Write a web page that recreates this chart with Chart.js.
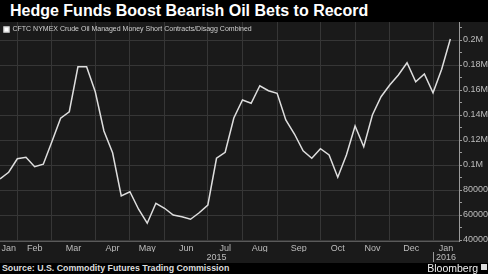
<!DOCTYPE html>
<html>
<head>
<meta charset="utf-8">
<script src="https://cdn.jsdelivr.net/npm/chart.js@4"></script>
<style>
    html, body {
        margin: 0;
        padding: 0;
        background: #000;
    }
    body {
        width: 488px;
        height: 274px;
        overflow: hidden;
        position: relative;
        font-family: 'Liberation Sans', Arial, sans-serif;
    }
    #title {
        position: absolute;
        left: 10px;
        top: 0;
        height: 22px;
        line-height: 22px;
        color: #fff;
        font-weight: bold;
        font-size: 16px;
        white-space: nowrap;
    }
    #panel {
        position: absolute;
        left: 0;
        top: 22px;
        width: 488px;
        height: 241px;
        background: #1a1a1a;
    }
    #source {
        position: absolute;
        left: 2px;
        top: 263px;
        height: 11px;
        line-height: 11px;
        font-size: 8.8px;
        font-weight: bold;
        color: #ddd;
        white-space: nowrap;
    }
    #brand {
        position: absolute;
        right: 10px;
        top: 262px;
        height: 12px;
        line-height: 12px;
        font-size: 10.5px;
        color: #eee;
        white-space: nowrap;
    }
    #brand-mark {
        position: absolute;
        right: 1px;
        top: 264px;
        width: 6px;
        height: 6px;
        background: #ddd;
    }
</style>
</head>
<body>
<div id="title">Hedge Funds Boost Bearish Oil Bets to Record</div>
<div id="panel"><canvas id="oil-chart" width="488" height="241"></canvas></div>
<div id="source">Source: U.S. Commodity Futures Trading Commission</div>
<div id="brand">Bloomberg</div>
<div id="brand-mark"></div>
<script>
const seriesLabel = 'CFTC NYMEX Crude Oil Managed Money Short Contracts/Disagg Combined';
const monthNames = ['Jan', 'Feb', 'Mar', 'Apr', 'May', 'Jun', 'Jul', 'Aug', 'Sep', 'Oct', 'Nov', 'Dec'];

// weekly CFTC report dates, first one 2015-01-20
const firstReport = new Date(Date.UTC(2015, 0, 20));

// managed money short contracts, one value per weekly report
const shortContracts = [
    88800, 94200, 105000, 106200, 98600, 100600, 118800, 137400, 142600, 178600,
    178600, 158600, 127200, 109800, 75200, 78600, 64600, 53400, 69400, 65400,
    60000, 58600, 56600, 61800, 68000, 105400, 110200, 137600, 152000, 149400,
    163400, 159400, 157400, 136000, 124800, 111400, 105400, 113000, 108000, 90200,
    108000, 131200, 114600, 140000, 154600, 164000, 172000, 181800, 166600, 172800,
    157800, 176600, 200800,
];

const yTicks = [40000, 60000, 80000, 100000, 120000, 140000, 160000, 180000, 200000];
const yMinorStep = 10000;

const reportDates = shortContracts.map((_, i) => new Date(firstReport.getTime() + i * 7 * 86400000));
const xMin = 0;
const xMax = shortContracts.length; // axis runs one week past the last report

function spansBy(keyOf) {
    const spans = [];
    reportDates.forEach((d, i) => {
        const key = keyOf(d);
        if (!spans.length || spans[spans.length - 1].key !== key) {
            spans.push({key, start: i, date: d});
        }
    });
    spans.forEach((s, i) => {
        s.end = i + 1 < spans.length ? spans[i + 1].start : xMax;
        s.mid = (s.start + s.end) / 2;
    });
    return spans;
}

const monthSpans = spansBy((d) => d.getUTCFullYear() * 12 + d.getUTCMonth());
const yearSpans = spansBy((d) => d.getUTCFullYear());

const monthBoundaries = monthSpans.slice(1).map((s) => s.start);
const monthMids = monthSpans.map((s) => s.mid);
const yearBoundaries = yearSpans.slice(1).map((s) => s.start);

function formatShort(value) {
    if (value >= 100000) {
        return parseFloat((value / 1000000).toFixed(2)) + 'M';
    }
    return String(value);
}

// edge labels must not push the plot area inwards
function noEdgePadding(scale) {
    scale.paddingTop = 0;
    scale.paddingBottom = 0;
    scale.paddingLeft = 0;
    scale.paddingRight = 0;
}

const tickFont = {family: "'Liberation Sans', Arial, sans-serif", size: 9};

function buildChart() {
    const ctx = document.getElementById('oil-chart').getContext('2d');
    return new Chart(ctx, {
        type: 'line',
        data: {
            datasets: [
                {
                    label: seriesLabel,
                    data: shortContracts.map((v, i) => ({x: i, y: v})),
                    borderColor: '#dedede',
                    backgroundColor: '#ffffff',
                    borderWidth: 1.5,
                    pointRadius: 0,
                    tension: 0,
                },
            ],
        },
        options: {
            responsive: false,
            animation: false,
            layout: {padding: 0},
            plugins: {
                legend: {
                    position: 'chartArea',
                    align: 'start',
                    labels: {
                        color: '#d0d0d0',
                        boxWidth: 5,
                        boxHeight: 5,
                        padding: 4,
                        font: {family: "'Liberation Sans', Arial, sans-serif", size: 7},
                    },
                },
                tooltip: {enabled: false},
            },
            scales: {
                x: {
                    type: 'linear',
                    min: xMin,
                    max: xMax,
                    weight: 1,
                    afterBuildTicks(scale) {
                        const values = monthBoundaries.concat(monthMids).sort((a, b) => a - b);
                        scale.ticks = values.map((value) => ({value}));
                    },
                    afterFit(scale) {
                        scale.height = 11;
                        noEdgePadding(scale);
                    },
                    grid: {
                        color(c) {
                            return monthBoundaries.includes(c.tick.value) ? '#363636' : 'transparent';
                        },
                        drawTicks: false,
                    },
                    border: {display: true, color: '#5a5a5a'},
                    ticks: {
                        autoSkip: false,
                        maxRotation: 0,
                        padding: 2,
                        color: '#bdbdbd',
                        font: tickFont,
                        callback(value) {
                            const idx = monthMids.indexOf(value);
                            return idx === -1 ? '' : monthNames[monthSpans[idx].date.getUTCMonth()];
                        },
                    },
                },
                xYears: {
                    type: 'linear',
                    position: 'bottom',
                    min: xMin,
                    max: xMax,
                    weight: 2,
                    afterBuildTicks(scale) {
                        const values = yearSpans.map((s) => s.mid).concat(yearBoundaries);
                        scale.ticks = values.sort((a, b) => a - b).map((value) => ({value}));
                    },
                    afterFit(scale) {
                        scale.height = 11;
                        noEdgePadding(scale);
                    },
                    grid: {
                        drawOnChartArea: false,
                        tickLength: 10,
                        color(c) {
                            return yearBoundaries.includes(c.tick.value) ? '#9a9a9a' : 'transparent';
                        },
                    },
                    border: {display: false},
                    ticks: {
                        autoSkip: false,
                        maxRotation: 0,
                        padding: -10,
                        color: '#bdbdbd',
                        font: tickFont,
                        callback(value) {
                            const span = yearSpans.find((s) => s.mid === value);
                            return span ? String(span.key) : '';
                        },
                    },
                },
                y: {
                    position: 'right',
                    min: 39200,
                    max: 214400,
                    afterBuildTicks(scale) {
                        const ticks = [];
                        for (let v = yTicks[0]; v <= scale.max; v += yMinorStep) {
                            ticks.push({value: v});
                        }
                        scale.ticks = ticks;
                    },
                    afterFit(scale) {
                        scale.width = 29;
                        noEdgePadding(scale);
                    },
                    grid: {
                        tickLength: 3,
                        color(c) {
                            return yTicks.includes(c.tick.value) ? '#363636' : 'transparent';
                        },
                        tickColor: '#9a9a9a',
                    },
                    border: {display: true, color: '#9a9a9a'},
                    ticks: {
                        autoSkip: false,
                        padding: 1,
                        color: '#bdbdbd',
                        font: tickFont,
                        callback(value) {
                            return yTicks.includes(value) ? formatShort(value) : '';
                        },
                    },
                },
            },
        },
    });
}

buildChart();
</script>
</body>
</html>
